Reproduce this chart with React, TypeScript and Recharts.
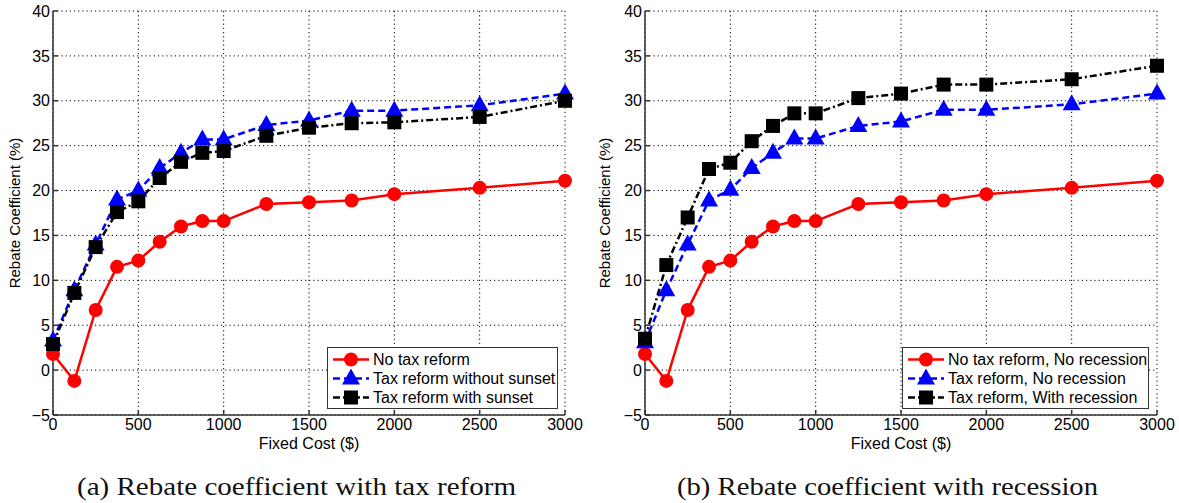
import React from 'react';
import {LineChart, Line, XAxis, YAxis, CartesianGrid, Legend} from 'recharts';

// fixed cost levels ($)
const costs = [0, 125, 250, 375, 500, 625, 750, 875, 1000, 1250, 1500, 1750, 2000, 2500, 3000];

// panel (a): rebate coefficient with tax reform (%)
const noTaxReform = [1.8, -1.2, 6.7, 11.5, 12.2, 14.3, 16.0, 16.6, 16.6, 18.5, 18.7, 18.9, 19.6, 20.3, 21.1];
const reformWithoutSunset = [3.3, 8.9, 14.0, 19.0, 20.0, 22.5, 24.2, 25.7, 25.7, 27.3, 27.8, 28.9, 28.9, 29.5, 30.8];
const reformWithSunset = [2.9, 8.6, 13.7, 17.6, 18.8, 21.4, 23.2, 24.2, 24.4, 26.1, 27.0, 27.5, 27.6, 28.2, 30.0];

// panel (b): rebate coefficient with recession (%)
const noReformNoRecession = [1.8, -1.2, 6.7, 11.5, 12.2, 14.3, 16.0, 16.6, 16.6, 18.5, 18.7, 18.9, 19.6, 20.3, 21.1];
const reformNoRecession = [3.1, 8.9, 14.0, 18.9, 20.1, 22.5, 24.2, 25.8, 25.8, 27.2, 27.7, 29.0, 29.0, 29.6, 30.8];
const reformWithRecession = [3.5, 11.7, 17.0, 22.4, 23.1, 25.5, 27.2, 28.6, 28.6, 30.3, 30.8, 31.8, 31.8, 32.4, 33.9];

const xTicks = [0, 500, 1000, 1500, 2000, 2500, 3000];
const yTicks = [-5, 0, 5, 10, 15, 20, 25, 30, 35, 40];

const sans = '"Liberation Sans", Arial, Helvetica, sans-serif';
const serif = '"Liberation Serif", "Times New Roman", serif';

type Marker = 'circle' | 'triangle' | 'square';

interface SeriesDef {
    key: string;
    name: string;
    color: string;
    dash?: string;
    marker: Marker;
}

const styleA: SeriesDef[] = [
    {key: 's1', name: 'No tax reform', color: '#ff0000', marker: 'circle'},
    {key: 's2', name: 'Tax reform without sunset', color: '#0000ff', dash: '7 4', marker: 'triangle'},
    {key: 's3', name: 'Tax reform with sunset', color: '#000000', dash: '7 3 2 3', marker: 'square'},
];

const styleB: SeriesDef[] = [
    {key: 's1', name: 'No tax reform, No recession', color: '#ff0000', marker: 'circle'},
    {key: 's2', name: 'Tax reform, No recession', color: '#0000ff', dash: '7 4', marker: 'triangle'},
    {key: 's3', name: 'Tax reform, With recession', color: '#000000', dash: '7 3 2 3', marker: 'square'},
];

const dataA = costs.map((c, i) => ({cost: c, s1: noTaxReform[i], s2: reformWithoutSunset[i], s3: reformWithSunset[i]}));
const dataB = costs.map((c, i) => ({cost: c, s1: noReformNoRecession[i], s2: reformNoRecession[i], s3: reformWithRecession[i]}));

function markerShape(marker: Marker, cx: number, cy: number, color: string, k?: string | number) {
    if (marker === 'circle') {
        return <circle key={k} cx={cx} cy={cy} r={7} fill={color} stroke='none' />;
    }
    if (marker === 'triangle') {
        const pts = `${cx},${cy - 10} ${cx - 9},${cy + 6} ${cx + 9},${cy + 6}`;
        return <polygon key={k} points={pts} fill={color} stroke='none' />;
    }
    return <rect key={k} x={cx - 7} y={cy - 7} width={14} height={14} fill={color} stroke='none' />;
}

const makeDot = (s: SeriesDef) => (props: any) => {
    const {cx, cy, index} = props;
    if (cx == null || cy == null) return <g key={`e-${index}`} />;
    return markerShape(s.marker, cx, cy, s.color, `${s.key}-${index}`);
};

function LegendBox({series, width}: {series: SeriesDef[]; width: number}) {
    return (
        <div
            style={{
                width,
                height: 62,
                boxSizing: 'border-box',
                border: '1.5px solid #333',
                background: '#fff',
                padding: '2px 0 0 5px',
                fontFamily: sans,
                fontSize: 16,
                color: '#000',
            }}
        >
            {series.map((s) => (
                <div key={s.key} style={{display: 'flex', alignItems: 'center', height: 19}}>
                    <svg width={36} height={19} style={{flex: 'none'}}>
                        <line x1={0} x2={36} y1={9.5} y2={9.5} stroke={s.color} strokeWidth={2.5} strokeDasharray={s.dash} />
                        {markerShape(s.marker, 18, 9.5, s.color)}
                    </svg>
                    <span style={{marginLeft: 4, whiteSpace: 'nowrap', lineHeight: '19px'}}>{s.name}</span>
                </div>
            ))}
        </div>
    );
}

const fmtY = (v: number) => (v < 0 ? `\u2212${-v}` : `${v}`);

interface PanelProps {
    data: any[];
    series: SeriesDef[];
    width: number;
    axisWidth: number;
    rightMargin: number;
    legendLeft: number;
    legendWidth: number;
}

function Panel({data, series, width, axisWidth, rightMargin, legendLeft, legendWidth}: PanelProps) {
    return (
        <LineChart width={width} height={460} data={data} margin={{top: 11, right: rightMargin, left: 0, bottom: 0}}>
            <CartesianGrid stroke='#000' strokeDasharray='1.2 3' strokeWidth={1} />
            <XAxis
                dataKey='cost'
                type='number'
                domain={[0, 3000]}
                ticks={xTicks}
                height={45}
                stroke='#333'
                strokeWidth={1.5}
                tickSize={-5}
                tickMargin={9}
                tick={{fontSize: 16, fill: '#000', fontFamily: sans}}
                label={{value: 'Fixed Cost ($)', position: 'insideTop', offset: 23, fontSize: 16, fill: '#000', fontFamily: sans}}
            />
            <YAxis
                type='number'
                domain={[-5, 40]}
                ticks={yTicks}
                width={axisWidth}
                stroke='#333'
                strokeWidth={1.5}
                tickSize={-5}
                tickMargin={8}
                tickFormatter={fmtY}
                tick={{fontSize: 16, fill: '#000', fontFamily: sans}}
                label={{
                    value: 'Rebate Coefficient (%)',
                    angle: -90,
                    position: 'insideLeft',
                    offset: 15,
                    fontSize: 15,
                    fill: '#000',
                    fontFamily: sans,
                    style: {textAnchor: 'middle'},
                }}
            />
            {series.map((s) => (
                <Line
                    key={s.key}
                    dataKey={s.key}
                    name={s.name}
                    type='linear'
                    stroke={s.color}
                    strokeWidth={2.5}
                    strokeDasharray={s.dash}
                    dot={makeDot(s)}
                    activeDot={false}
                    isAnimationActive={false}
                />
            ))}
            <Legend
                layout='horizontal'
                verticalAlign='middle'
                align='center'
                wrapperStyle={{left: legendLeft, top: 347, width: legendWidth, height: 62}}
                content={() => <LegendBox series={series} width={legendWidth} />}
            />
        </LineChart>
    );
}

export default function App() {
    return (
        <div style={{position: 'absolute', left: 0, top: 0, width: 1179, height: 503, background: '#fff'}}>
            <div style={{position: 'absolute', left: 0, top: 0}}>
                <Panel data={dataA} series={styleA} width={590} axisWidth={53} rightMargin={25} legendLeft={327} legendWidth={231} />
            </div>
            <div style={{position: 'absolute', left: 590, top: 0}}>
                <Panel data={dataB} series={styleB} width={589} axisWidth={55} rightMargin={22} legendLeft={312} legendWidth={247} />
            </div>
            <svg width={1179} height={43} style={{position: 'absolute', left: 0, top: 460}}>
                <text x={77} y={35} fontFamily={serif} fontSize={26} fill='#111' textLength={439} lengthAdjust='spacingAndGlyphs'>
                    (a) Rebate coefficient with tax reform
                </text>
                <text x={677} y={35} fontFamily={serif} fontSize={26} fill='#111' textLength={421} lengthAdjust='spacingAndGlyphs'>
                    (b) Rebate coefficient with recession
                </text>
            </svg>
        </div>
    );
}
